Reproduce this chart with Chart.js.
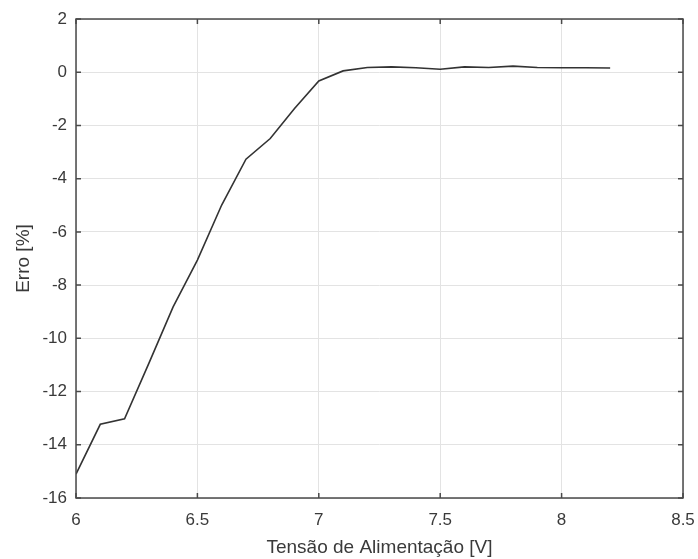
<!DOCTYPE html>
<html>
<head>
<meta charset="utf-8">
<script src="https://cdn.jsdelivr.net/npm/chart.js@4/dist/chart.umd.min.js"></script>
<style>
  html, body { margin: 0; padding: 0; background: #fff; }
  #wrap { width: 698px; height: 559px; }
</style>
</head>
<body>
<div id="wrap"><canvas id="c" width="698" height="559"></canvas></div>
<script>
// tensão de alimentação (V) e erro (%)
const voltages = [6.0, 6.1, 6.2, 6.3, 6.4, 6.5, 6.6, 6.7, 6.8, 6.9, 7.0, 7.1,
  7.2, 7.3, 7.4, 7.5, 7.6, 7.7, 7.8, 7.9, 8.0, 8.1, 8.2];
const errors = [-15.1, -13.23, -13.02, -10.94, -8.82, -7.06, -4.99, -3.27,
  -2.49, -1.36, -0.33, 0.05, 0.18, 0.2, 0.17, 0.11, 0.2, 0.18, 0.23, 0.18,
  0.17, 0.17, 0.16];
const xTicks = [6, 6.5, 7, 7.5, 8, 8.5];
const yTicks = [-16, -14, -12, -10, -8, -6, -4, -2, 0, 2];

const textColor = "#3a3a3a";
const axisColor = "#4a4a4a";
const fontFamily = "'Liberation Sans', Arial, sans-serif";

// MATLAB-style box with inward ticks
const boxPlugin = {
  id: "box",
  afterDatasetsDraw(chart) {
    const { ctx, chartArea: a, scales } = chart;
    ctx.save();
    ctx.strokeStyle = axisColor;
    ctx.lineWidth = 1.5;
    ctx.beginPath();
    xTicks.forEach((v) => {
      const x = scales.x.getPixelForValue(v);
      ctx.moveTo(x, a.bottom);
      ctx.lineTo(x, a.bottom - 5);
      ctx.moveTo(x, a.top);
      ctx.lineTo(x, a.top + 5);
    });
    yTicks.forEach((v) => {
      const y = scales.y.getPixelForValue(v);
      ctx.moveTo(a.left, y);
      ctx.lineTo(a.left + 5, y);
      ctx.moveTo(a.right, y);
      ctx.lineTo(a.right - 5, y);
    });
    ctx.stroke();
    ctx.strokeRect(a.left, a.top, a.right - a.left, a.bottom - a.top);
    ctx.restore();
  },
};

new Chart(document.getElementById("c").getContext("2d"), {
  type: "line",
  data: {
    datasets: [
      {
        data: voltages.map((v, i) => ({ x: v, y: errors[i] })),
        borderColor: "#333333",
        borderWidth: 1.6,
        pointRadius: 0,
        tension: 0,
      },
    ],
  },
  options: {
    responsive: false,
    animation: false,
    layout: { padding: { top: 19, right: 15, left: 0, bottom: 0 } },
    plugins: { legend: { display: false }, tooltip: { enabled: false } },
    scales: {
      x: {
        type: "linear",
        min: 6,
        max: 8.5,
        afterBuildTicks: (s) => { s.ticks = xTicks.map((v) => ({ value: v })); },
        afterFit: (s) => {
          s.height = 61;
          s.paddingLeft = 0;
          s.paddingRight = 0;
        },
        grid: { color: "#e3e3e3", lineWidth: 1, drawTicks: false },
        border: { display: false },
        ticks: {
          color: textColor,
          font: { family: fontFamily, size: 17 },
          padding: 12,
          maxRotation: 0,
          callback: (v) => String(v),
        },
        title: {
          display: true,
          text: "Tensão de Alimentação [V]",
          color: textColor,
          font: { family: fontFamily, size: 19 },
          padding: { top: 0, bottom: 0 },
        },
      },
      y: {
        min: -16,
        max: 2,
        afterBuildTicks: (s) => { s.ticks = yTicks.map((v) => ({ value: v })); },
        afterFit: (s) => {
          s.width = 76;
          s.paddingTop = 0;
          s.paddingBottom = 0;
        },
        grid: { color: "#e3e3e3", lineWidth: 1, drawTicks: false },
        border: { display: false },
        ticks: {
          color: textColor,
          font: { family: fontFamily, size: 17 },
          padding: 9,
          callback: (v) => String(v),
        },
        title: {
          display: true,
          text: "Erro [%]",
          color: textColor,
          font: { family: fontFamily, size: 19 },
          padding: { top: 12, bottom: 0 },
        },
      },
    },
  },
  plugins: [boxPlugin],
});
</script>
</body>
</html>
